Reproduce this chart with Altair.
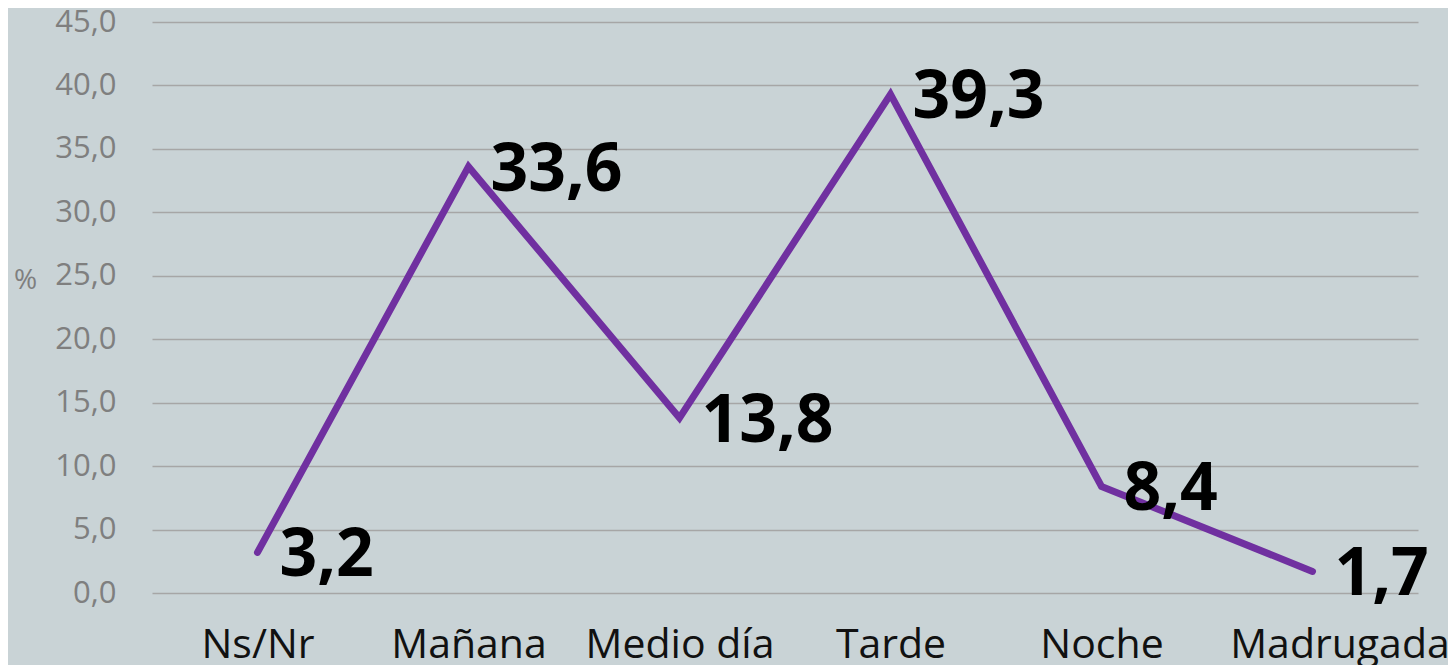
import altair as alt
import pandas as pd

categories = ["Ns/Nr", "Mañana", "Medio día", "Tarde", "Noche", "Madrugada"]
values = [3.2, 33.6, 13.8, 39.3, 8.4, 1.7]
labels = ["3,2", "33,6", "13,8", "39,3", "8,4", "1,7"]

df = pd.DataFrame({"cat": categories, "val": values, "lab": labels})

x = alt.X("cat:N", sort=categories,
          scale=alt.Scale(type="point", padding=0.5),
          axis=alt.Axis(title=None, labelAngle=0, labelFont="Open Sans",
                        labelFontSize=41, labelColor="#111111", ticks=False,
                        domain=False, grid=False, labelPadding=64,
                        labelLimit=0, labelOverlap=False,
                        labelOffset={"condition": {"test": "datum.value === 'Madrugada'", "value": 27},
                                     "value": 0},
                        labelBaseline="alphabetic"))
y = alt.Y("val:Q", scale=alt.Scale(domain=[0, 45], nice=False),
          axis=alt.Axis(title="%", titleAngle=0, titleX=-127, titleY=272,
                        titleFont="Open Sans", titleFontSize=28,
                        titleFontWeight="normal", titleColor="#7f7f7f",
                        values=[0, 5, 10, 15, 20, 25, 30, 35, 40, 45],
                        format=".1f", labelExpr="replace(datum.label, '.', ',')",
                        labelFont="Open Sans", labelFontSize=31,
                        labelColor="#7f7f7f", labelPadding=36, ticks=False,
                        domain=False, gridColor="#a6a6a6", gridWidth=1.5))

line = alt.Chart(df).mark_line(color="#7030a0", strokeWidth=7,
                               strokeCap="round", strokeJoin="miter").encode(x=x, y=y)
text = alt.Chart(df).mark_text(align="left", baseline="middle", dx=22, dy=4,
                               font="Open Sans", fontSize=66, fontWeight="bold",
                               color="#000000").encode(x=x, y=y, text="lab:N")

chart = (line + text).properties(
    width=1266, height=571,
    background="#c9d3d6",
    padding={"left": 144, "top": 14, "right": 30, "bottom": 72},
    autosize=alt.AutoSizeParams(type="none"),
).configure_view(stroke=None)

chart.save("out.html", embed_options={"renderer": "svg", "actions": False})
